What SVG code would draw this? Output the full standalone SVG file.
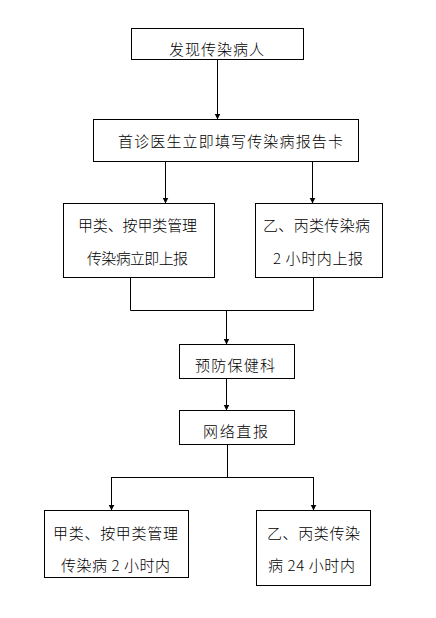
<svg xmlns="http://www.w3.org/2000/svg" width="436" height="618" viewBox="0 0 436 618">
<style>
.box{fill:#fff;stroke:#000;stroke-width:1}
.t{font-family:"Noto Sans CJK SC","Noto Sans",sans-serif;font-size:15px;font-weight:300;fill:#000;text-anchor:middle;dominant-baseline:central}
.c{fill:none;stroke:#000;stroke-width:1}
</style>
<defs>
<marker id="ah" markerWidth="6" markerHeight="7" refX="5.5" refY="3" orient="auto" markerUnits="userSpaceOnUse" viewBox="0 0 6 6">
<path d="M0,0 L6,3 L0,6 Z" fill="#000"/>
</marker>
</defs>
<rect width="436" height="618" fill="#fff"/>
<g id="connectors">
<path class="c" d="M217.5,59 V119" marker-end="url(#ah)"/>
<path class="c" d="M165.5,161 V203" marker-end="url(#ah)"/>
<path class="c" d="M312.5,161 V203" marker-end="url(#ah)"/>
<path class="c" d="M130.5,277 V310.5 H313.5 V277"/>
<path class="c" d="M226.5,310.5 V344" marker-end="url(#ah)"/>
<path class="c" d="M226.5,378 V410" marker-end="url(#ah)"/>
<path class="c" d="M227.5,444 V477.5"/>
<path class="c" d="M111.5,477.5 H313.5"/>
<path class="c" d="M111.5,477 V510" marker-end="url(#ah)"/>
<path class="c" d="M313.5,477 V510" marker-end="url(#ah)"/>
</g>
<g id="n1"><rect class="box" x="131.5" y="28.5" width="172" height="31"/><text class="t" x="216.5" y="48" textLength="95" lengthAdjust="spacing">发现传染病人</text></g>
<g id="n2"><rect class="box" x="93.5" y="119.5" width="265" height="42"/><text class="t" x="230.5" y="140" textLength="225" lengthAdjust="spacing">首诊医生立即填写传染病报告卡</text></g>
<g id="n3"><rect class="box" x="63.5" y="203.5" width="151" height="74"/><text class="t" x="137.5" y="224" textLength="119" lengthAdjust="spacing">甲类、按甲类管理</text><text class="t" x="137.5" y="257.5" textLength="101" lengthAdjust="spacing">传染病立即上报</text></g>
<g id="n4"><rect class="box" x="255.5" y="203.5" width="127" height="74"/><text class="t" x="316.5" y="224" textLength="107" lengthAdjust="spacing">乙、丙类传染病</text><text class="t" x="318" y="257.5" textLength="90" lengthAdjust="spacing">2 小时内上报</text></g>
<g id="n5"><rect class="box" x="179.5" y="344.5" width="115" height="34"/><text class="t" x="235" y="364" textLength="80" lengthAdjust="spacing">预防保健科</text></g>
<g id="n6"><rect class="box" x="179.5" y="410.5" width="115" height="34"/><text class="t" x="235.5" y="430" textLength="65" lengthAdjust="spacing">网络直报</text></g>
<g id="n7"><rect class="box" x="44.5" y="510.5" width="144" height="67"/><text class="t" x="115.5" y="532" textLength="125" lengthAdjust="spacing">甲类、按甲类管理</text><text class="t" x="115.5" y="564" textLength="109" lengthAdjust="spacing">传染病 2 小时内</text></g>
<g id="n8"><rect class="box" x="256.5" y="510.5" width="114" height="75"/><text class="t" x="313.5" y="532" textLength="93" lengthAdjust="spacing">乙、丙类传染</text><text class="t" x="311.5" y="564" textLength="87" lengthAdjust="spacing">病 24 小时内</text></g>
</svg>
